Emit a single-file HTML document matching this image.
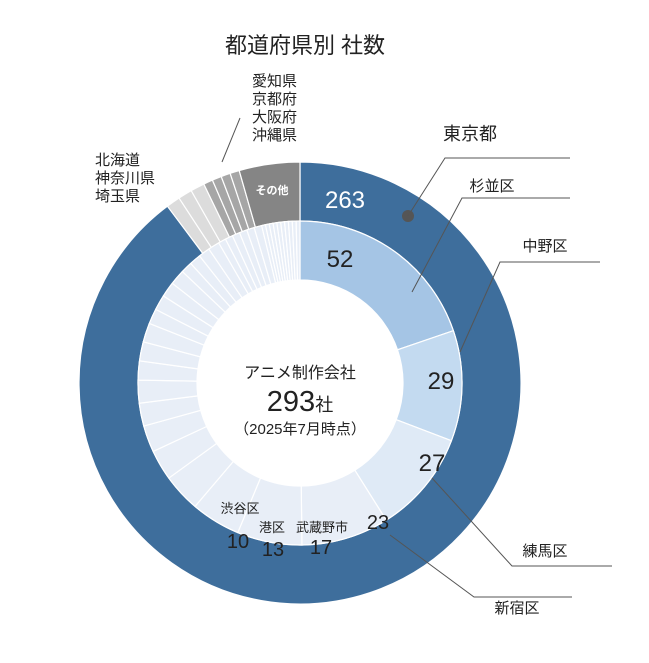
<!DOCTYPE html><html><head><meta charset="utf-8"><style>body{margin:0;background:#fff}svg{display:block}text{font-family:"Liberation Sans","Noto Sans CJK JP",sans-serif;fill:#222}</style></head><body>
<svg id="s" width="649" height="663" viewBox="0 0 649 663">
<text x="305" y="53" font-size="22" text-anchor="middle">都道府県別 社数</text>
<g id="arcs"></g>
<text x="345" y="208" font-size="24" style="fill:#fff" text-anchor="middle">263</text>
<text x="272" y="194" font-size="11" style="fill:#fff" text-anchor="middle" font-weight="bold">その他</text>
<circle cx="408" cy="216" r="6" fill="#555"/>
<g stroke="#555" stroke-width="1" fill="none">
<polyline points="408,216 445,158 570,158"/>
<polyline points="412,292 462,198 570,198"/>
<polyline points="460,352 500,262 600,262"/>
<polyline points="432,478 512,566 612,566"/>
<polyline points="390,535 474,597 572,597"/>
<line x1="222" y1="162" x2="240" y2="118"/>
</g>
<text x="340" y="267" font-size="24" text-anchor="middle">52</text>
<text x="441" y="389" font-size="24" text-anchor="middle">29</text>
<text x="432" y="471" font-size="24" text-anchor="middle">27</text>
<text x="378" y="529" font-size="20" text-anchor="middle">23</text>
<text x="321" y="554" font-size="20" text-anchor="middle">17</text>
<text x="273" y="556" font-size="20" text-anchor="middle">13</text>
<text x="238" y="548" font-size="20" text-anchor="middle">10</text>
<text x="240" y="513" font-size="13" text-anchor="middle">渋谷区</text>
<text x="272" y="532" font-size="13" text-anchor="middle">港区</text>
<text x="322" y="532" font-size="13" text-anchor="middle">武蔵野市</text>
<text x="300" y="378" font-size="16" text-anchor="middle">アニメ制作会社</text>
<text x="300" y="411" font-size="29" text-anchor="middle">293<tspan font-size="18">社</tspan></text>
<text x="300" y="434" font-size="15" text-anchor="middle">（2025年7月時点）</text>
<text x="470" y="140" font-size="18" text-anchor="middle">東京都</text>
<text x="492" y="191" font-size="15" text-anchor="middle">杉並区</text>
<text x="545" y="251" font-size="15" text-anchor="middle">中野区</text>
<text x="545" y="556" font-size="15" text-anchor="middle">練馬区</text>
<text x="517" y="613" font-size="15" text-anchor="middle">新宿区</text>
<g font-size="15"><text x="95" y="165">北海道</text><text x="95" y="183">神奈川県</text><text x="95" y="201">埼玉県</text>
<text x="252" y="86">愛知県</text><text x="252" y="104">京都府</text><text x="252" y="122">大阪府</text><text x="252" y="140">沖縄県</text></g>
</svg>
<script>
var cx=300,cy=383,g=document.getElementById('arcs');
function pt(r,a){a=a*Math.PI/180;return [cx+r*Math.sin(a),cy-r*Math.cos(a)];}
function arc(r0,r1,a0,a1,fill){var l=(a1-a0)>180?1:0,p=pt(r1,a0),q=pt(r1,a1),u=pt(r0,a1),v=pt(r0,a0);
var e=document.createElementNS('http://www.w3.org/2000/svg','path');
e.setAttribute('d','M'+p+'A'+r1+','+r1+' 0 '+l+' 1 '+q+'L'+u+'A'+r0+','+r0+' 0 '+l+' 0 '+v+'Z');
e.setAttribute('fill',fill);e.setAttribute('stroke','#fff');e.setAttribute('stroke-width','1.2');g.appendChild(e);}
var outer=[[263,'#3e6e9c'],[3,'#dcdcdc'],[3,'#dcdcdc'],[3,'#dcdcdc'],[2,'#a6a6a6'],[2,'#a6a6a6'],[2,'#a6a6a6'],[2,'#a6a6a6'],[13,'#858585']];
var a=0;outer.forEach(function(s){var d=s[0]*360/293;arc(162,221,a,a+d,s[1]);a+=d;});
var inner=[[52,'#a5c5e5'],[29,'#c3daf0'],[27,'#dfeaf6'],[23,'#e8eef7'],[17,'#e8eef7'],[13,'#e8eef7'],[10,'#e8eef7']];
[8,7,6,6,5,5,5,4,4,4,4,3,3,3,3,2,2,2,2,2,2,1,1,1,1,1,1,1,1,1,1].forEach(function(v){inner.push([v,'#e8eef7']);});
a=0;inner.forEach(function(s){var d=s[0]*360/263;arc(103,162,a,a+d,s[1]);a+=d;});
</script>
</body></html>
